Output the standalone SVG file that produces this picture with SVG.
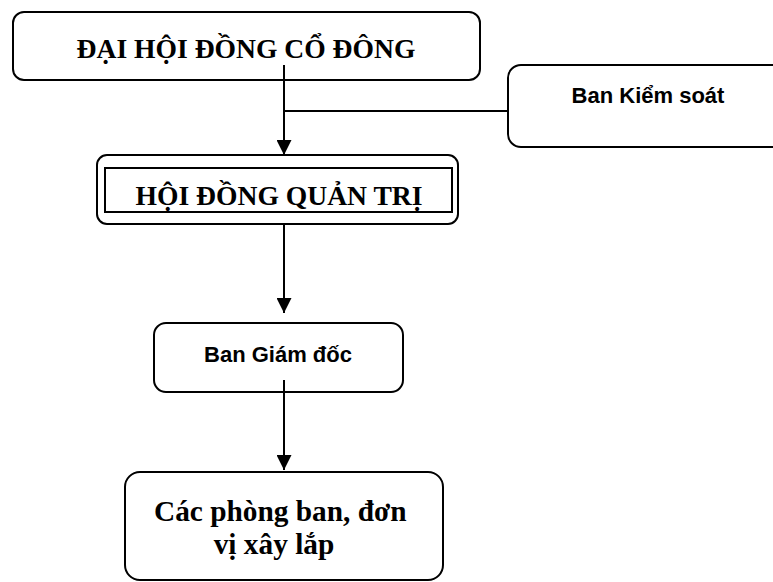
<svg xmlns="http://www.w3.org/2000/svg" width="773" height="582" viewBox="0 0 773 582">
  <style>
    .box { fill: #ffffff; stroke: #000000; stroke-width: 2; }
    .serif { font-family: "Liberation Serif", "Times New Roman", serif; font-weight: bold; fill: #000000; }
    .sans { font-family: "Liberation Sans", Arial, sans-serif; font-weight: bold; fill: #000000; }
    .wire { fill: none; stroke: #000000; stroke-width: 2; }
  </style>
  <defs>
    <marker id="arrow" markerUnits="userSpaceOnUse" markerWidth="16" markerHeight="15" refX="15" refY="7.5" orient="auto">
      <path d="M0,0 L15,7.5 L0,15 Z" fill="#000000"/>
    </marker>
  </defs>
  <rect width="773" height="582" fill="#ffffff"/>

  <g id="dai-hoi-dong-co-dong">
    <rect class="box" x="13" y="12" width="467" height="68" rx="11"/>
    <text class="serif" x="246" y="58" font-size="27.6" text-anchor="middle">ĐẠI HỘI ĐỒNG CỔ ĐÔNG</text>
  </g>

  <g id="ban-kiem-soat">
    <rect class="box" x="508" y="65" width="290" height="82" rx="13"/>
    <text class="sans" x="648" y="103" font-size="22" text-anchor="middle">Ban Kiểm soát</text>
  </g>

  <g id="hoi-dong-quan-tri">
    <rect class="box" x="97" y="155" width="361" height="69" rx="10"/>
    <rect class="box" x="105" y="168" width="347" height="44"/>
    <text class="serif" x="279" y="205" font-size="27.6" text-anchor="middle">HỘI ĐỒNG QUẢN TRỊ</text>
  </g>

  <g id="ban-giam-doc">
    <rect class="box" x="154" y="323" width="249" height="69" rx="12"/>
    <text class="sans" x="278" y="362" font-size="22" text-anchor="middle">Ban Giám đốc</text>
  </g>

  <g id="cac-phong-ban">
    <rect class="box" x="125" y="472" width="318" height="108" rx="15"/>
    <text class="serif" font-size="29.33" text-anchor="middle">
      <tspan x="284" y="521">Các phòng ban, đơn</tspan>
      <tspan x="274" y="554">vị xây lắp</tspan>
    </text>
  </g>

  <g id="connectors">
    <line class="wire" x1="284" y1="65" x2="284" y2="155" marker-end="url(#arrow)"/>
    <line class="wire" x1="284" y1="111" x2="508" y2="111"/>
    <line class="wire" x1="284" y1="224" x2="284" y2="313" marker-end="url(#arrow)"/>
    <line class="wire" x1="284" y1="380" x2="284" y2="470" marker-end="url(#arrow)"/>
  </g>
</svg>
